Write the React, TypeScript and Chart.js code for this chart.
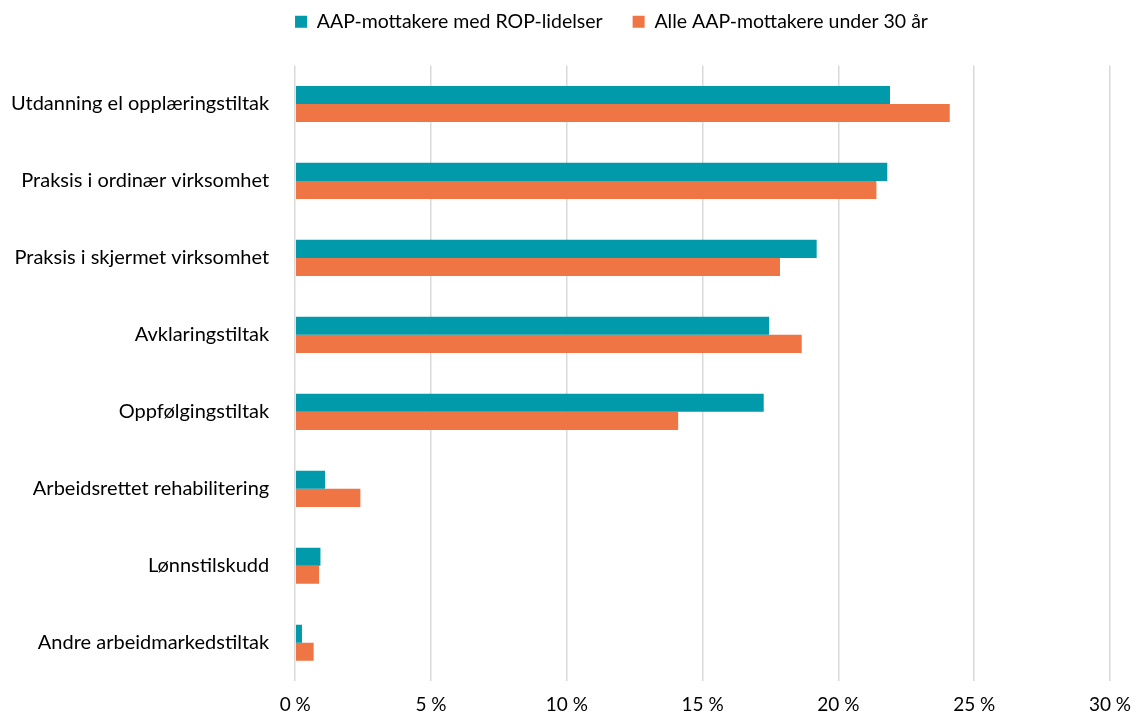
import React, { useEffect, useRef } from "react";
import { Chart, registerables } from "chart.js";

Chart.register(...registerables);

const categories = [
  "Utdanning el opplæringstiltak",
  "Praksis i ordinær virksomhet",
  "Praksis i skjermet virksomhet",
  "Avklaringstiltak",
  "Oppfølgingstiltak",
  "Arbeidsrettet rehabilitering",
  "Lønnstilskudd",
  "Andre arbeidmarkedstiltak",
];
const seriesNames = ["AAP-mottakere med ROP-lidelser", "Alle AAP-mottakere under 30 år"];
const ropValues = [21.9, 21.8, 19.2, 17.45, 17.25, 1.1, 0.93, 0.25];
const allValues = [24.1, 21.4, 17.85, 18.65, 14.1, 2.4, 0.88, 0.68];
const colors = ["#009AAA", "#F07545"];

const legendTweak = {
  id: "legendTweak",
  beforeInit(chart: any) {
    const lg = chart.legend;
    if (lg && !lg._patched) {
      const orig = lg.fit;
      lg.fit = function () {
        orig.call(this);
        this.height += 24;
      };
      lg._patched = true;
    }
  },
  afterLayout(chart: any) {
    const lg = chart.legend;
    if (lg) {
      lg.left += 49;
      lg.right += 49;
    }
  },
};

export default function App() {
  const ref = useRef<HTMLCanvasElement | null>(null);
  useEffect(() => {
    document.body.style.margin = "0";
    const font = "Lato, 'Open Sans', sans-serif";
    const chart = new Chart(ref.current!, {
      type: "bar",
      data: {
        labels: categories,
        datasets: [
          { label: seriesNames[0], data: ropValues, backgroundColor: colors[0], categoryPercentage: 0.47, barPercentage: 1 },
          { label: seriesNames[1], data: allValues, backgroundColor: colors[1], categoryPercentage: 0.47, barPercentage: 1 },
        ],
      },
      options: {
        indexAxis: "y",
        animation: false,
        responsive: false,
        layout: { padding: { left: -7, right: 0, top: -18, bottom: -13 } },
        plugins: {
          legend: {
            position: "top",
            labels: {
              boxWidth: 12,
              boxHeight: 12,
              padding: 30,
              color: "#000",
              font: { family: font, size: 19.5 },
            },
          },
          tooltip: { enabled: false },
        },
        scales: {
          x: {
            min: 0,
            max: 30,
            afterFit: (scale: any) => {
              scale.paddingRight = 22;
            },
            ticks: {
              stepSize: 5,
              color: "#000",
              font: { family: font, size: 19 },
              padding: 12,
              callback: (v: any) => v + " %",
            },
            grid: { color: "#d9d9d9", lineWidth: 1.5, drawTicks: false },
            border: { display: false },
          },
          y: {
            ticks: { color: "#000", font: { family: font, size: 20 }, padding: 18 },
            grid: { display: false },
            border: { display: false },
          },
        },
      },
      plugins: [legendTweak],
    });
    return () => chart.destroy();
  }, []);
  return <canvas ref={ref} width={1132} height={715} />;
}
